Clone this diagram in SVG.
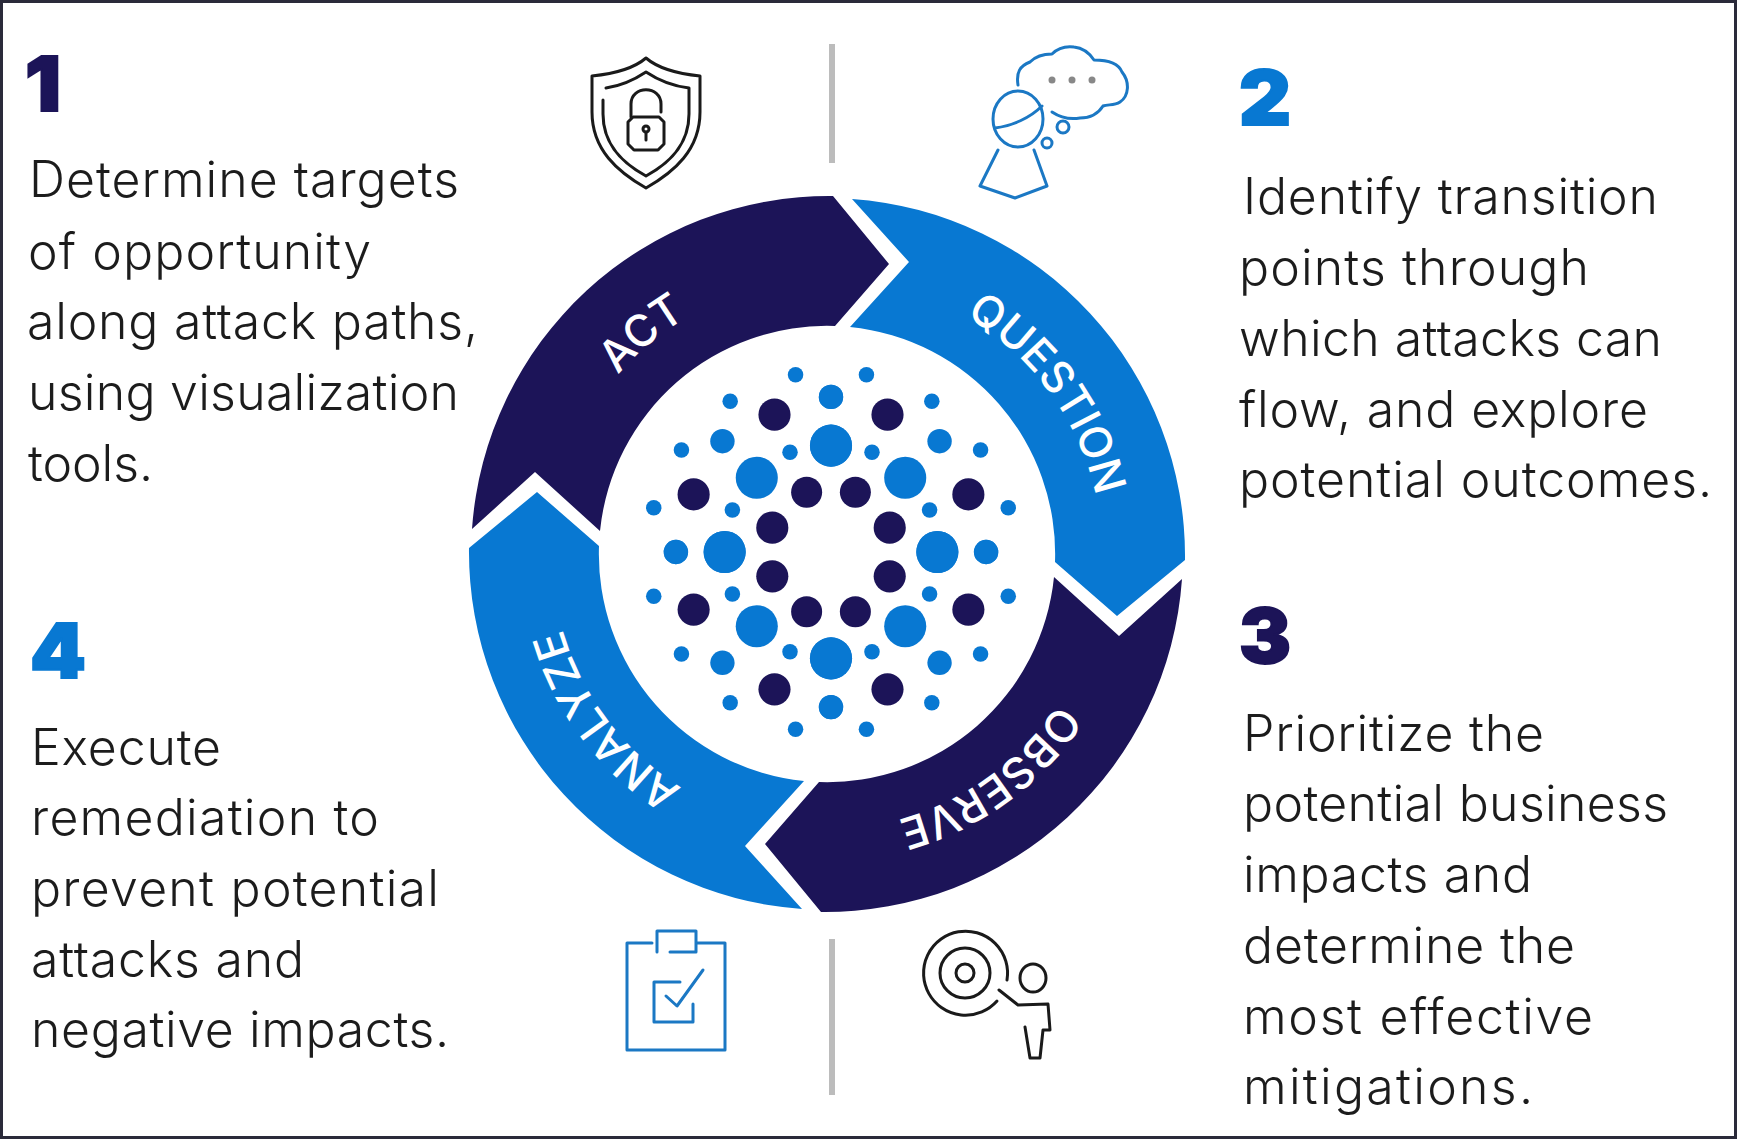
<svg xmlns="http://www.w3.org/2000/svg" width="1737" height="1139" viewBox="0 0 1737 1139">
<style>
.t{font-family:"Inter","Liberation Sans",sans-serif;font-size:50px;font-weight:300;fill:#1c1c1c}
.n{font-family:"Inter","Liberation Sans",sans-serif;font-size:76px;font-weight:900;stroke-width:2}
.l{font-family:"Inter","Liberation Sans",sans-serif;font-size:44px;font-weight:500;fill:#fff}
.navy{fill:#1c1458}.blue{fill:#0878d2}
.n.navy{stroke:#1c1458}.n.blue{stroke:#0878d2}
.ik{fill:none;stroke:#1a1a1a;stroke-width:3;stroke-linecap:round;stroke-linejoin:round}
.ib{fill:none;stroke:#1b78c4;stroke-width:3;stroke-linecap:round;stroke-linejoin:round}
.d{fill:none;stroke:#bcbcbc;stroke-width:6}
</style>
<defs>
<path id="seg" d="M-355,-25 A358,358 0 0 1 6,-358 L62,-290 L8,-228 A228,228 0 0 0 -227,-23 L-292,-82 Z"/>
<path id="arc" d="M-238.2,-137.5 A275,275 0 0 1 238.2,-137.5"/>
<g id="q">
<circle class="blue" cx="32" cy="-160" r="7"/><circle class="blue" cx="91" cy="-136" r="7"/><circle class="blue" cx="135" cy="-92" r="7"/><circle class="blue" cx="160" cy="-40" r="7"/><circle class="blue" cx="37" cy="-90" r="7"/><circle class="blue" cx="89" cy="-38" r="7"/>
<circle class="blue" cx="0" cy="-140" r="11"/><circle class="blue" cx="98" cy="-100" r="11"/><circle class="blue" cx="140" cy="0" r="11"/>
<circle class="blue" cx="0" cy="-96" r="19"/><circle class="blue" cx="67" cy="-67" r="19"/><circle class="blue" cx="96" cy="0" r="19"/>
<circle class="navy" cx="51" cy="-124" r="14.5"/><circle class="navy" cx="124" cy="-52" r="14.5"/><circle class="navy" cx="22" cy="-54" r="14"/><circle class="navy" cx="53" cy="-22" r="14.5"/>
</g>
</defs>
<rect x="0" y="0" width="1737" height="1139" fill="#fff"/>
<rect x="1.5" y="1.5" width="1734" height="1136" fill="none" stroke="#2a2a3a" stroke-width="3"/>
<g id="connectors"><line class="d" x1="832" y1="44" x2="832" y2="163"/><line class="d" x1="832" y1="939" x2="832" y2="1095"/></g>
<g id="cycle" transform="translate(827,554)">
<g id="act"><use href="#seg" class="navy"/><text class="l" transform="rotate(-40)"><textPath href="#arc" startOffset="50%" text-anchor="middle">ACT</textPath></text></g>
<g id="question" transform="rotate(90)"><use href="#seg" class="blue"/><text class="l" transform="rotate(-36)"><textPath href="#arc" startOffset="50%" text-anchor="middle">QUESTION</textPath></text></g>
<g id="observe" transform="rotate(180)"><use href="#seg" class="navy"/><text class="l" transform="rotate(-36)"><textPath href="#arc" startOffset="50%" text-anchor="middle">OBSERVE</textPath></text></g>
<g id="analyze" transform="rotate(270)"><use href="#seg" class="blue"/><text class="l" transform="rotate(-37)"><textPath href="#arc" startOffset="50%" text-anchor="middle">ANALYZE</textPath></text></g>
</g>
<g id="dots" transform="translate(831,552) scale(1.1078)">
<use href="#q"/><use href="#q" transform="scale(-1,1)"/><use href="#q" transform="scale(1,-1)"/><use href="#q" transform="scale(-1,-1)"/>
</g>
<g id="step1">
<text class="n navy" x="25" y="111" textLength="36" lengthAdjust="spacingAndGlyphs">1</text>
<text class="t" x="29" y="197" textLength="430">Determine targets</text>
<text class="t" x="28" y="269" textLength="343">of opportunity</text>
<text class="t" x="27" y="339" textLength="451">along attack paths,</text>
<text class="t" x="28" y="410" textLength="431">using visualization</text>
<text class="t" x="28" y="481" textLength="125">tools.</text>
</g>
<g id="step2">
<text class="n blue" x="1239" y="125" textLength="52" lengthAdjust="spacingAndGlyphs">2</text>
<text class="t" x="1243" y="214" textLength="415">Identify transition</text>
<text class="t" x="1239" y="285" textLength="350">points through</text>
<text class="t" x="1239" y="356" textLength="423">which attacks can</text>
<text class="t" x="1239" y="427" textLength="409">flow, and explore</text>
<text class="t" x="1239" y="497" textLength="473">potential outcomes.</text>
</g>
<g id="step3">
<text class="n navy" x="1239" y="663" textLength="52" lengthAdjust="spacingAndGlyphs">3</text>
<text class="t" x="1243" y="751" textLength="301">Prioritize the</text>
<text class="t" x="1243" y="821" textLength="425">potential business</text>
<text class="t" x="1243" y="892" textLength="289">impacts and</text>
<text class="t" x="1243" y="963" textLength="332">determine the</text>
<text class="t" x="1243" y="1034" textLength="350">most effective</text>
<text class="t" x="1243" y="1104" textLength="290">mitigations.</text>
</g>
<g id="step4">
<text class="n blue" x="30" y="678" textLength="56" lengthAdjust="spacingAndGlyphs">4</text>
<text class="t" x="31" y="765" textLength="190">Execute</text>
<text class="t" x="31" y="835" textLength="348">remediation to</text>
<text class="t" x="31" y="906" textLength="408">prevent potential</text>
<text class="t" x="31" y="977" textLength="273">attacks and</text>
<text class="t" x="31" y="1047" textLength="418">negative impacts.</text>
</g>
<g id="icon-shield" class="ik">
<path d="M646 58C632 70 612 74 592 76L592 112C592 150 618 172 646 188C674 172 700 150 700 112L700 76C680 74 660 70 646 58Z"/>
<path d="M603 100L603 114C603 146 624 164 646 176C668 164 689 146 689 114L689 88C672 86 658 80 646 72C634 80 620 86 606 88"/>
<path d="M631 117V104C631 85 661 85 661 104V112"/>
<path d="M633 117H659L664 122V144L658 150H634L628 144V122Z"/>
<circle cx="646" cy="129" r="3"/><path d="M646 132V140"/>
</g>
<g id="icon-think">
<path class="ib" d="M1018 85C1016 72 1020 66 1030 62C1036 56 1044 54 1052 54C1058 48 1066 46 1074 47C1084 48 1090 54 1094 60C1104 60 1118 62 1122 72C1130 82 1129 96 1120 102C1114 106 1108 104 1103 106C1098 114 1090 118 1080 118C1068 120 1058 116 1052 112"/>
<ellipse class="ib" cx="1018" cy="119" rx="25" ry="28"/><path class="ib" d="M995 128C1012 126 1030 118 1042 106"/>
<circle class="ib" cx="1063" cy="127" r="6"/><circle class="ib" cx="1047" cy="143" r="5"/>
<path class="ib" d="M998 150L980 186L1015 198L1047 186L1034 150"/>
<circle cx="1052" cy="80" r="3.5" fill="#888"/><circle cx="1072" cy="80" r="3.5" fill="#888"/><circle cx="1092" cy="80" r="3.5" fill="#888"/>
</g>
<g id="icon-clipboard" class="ib">
<path d="M652 943H627V1050H725V943H697"/>
<path d="M657 952V931H696V952H670"/>
<path d="M680 982H654V1022H693V1004"/>
<path d="M666 996L677 1006L703 970"/>
</g>
<g id="icon-target" class="ik">
<path d="M1007 980A42 42 0 1 0 997 1001"/>
<circle cx="965" cy="973" r="25"/><circle cx="965" cy="973" r="9"/>
<path d="M999 990L1018 1005L1048 1004L1050 1030H1043L1040 1058H1030L1025 1027"/>
<ellipse cx="1033" cy="978" rx="13" ry="14"/>
</g>
</svg>
